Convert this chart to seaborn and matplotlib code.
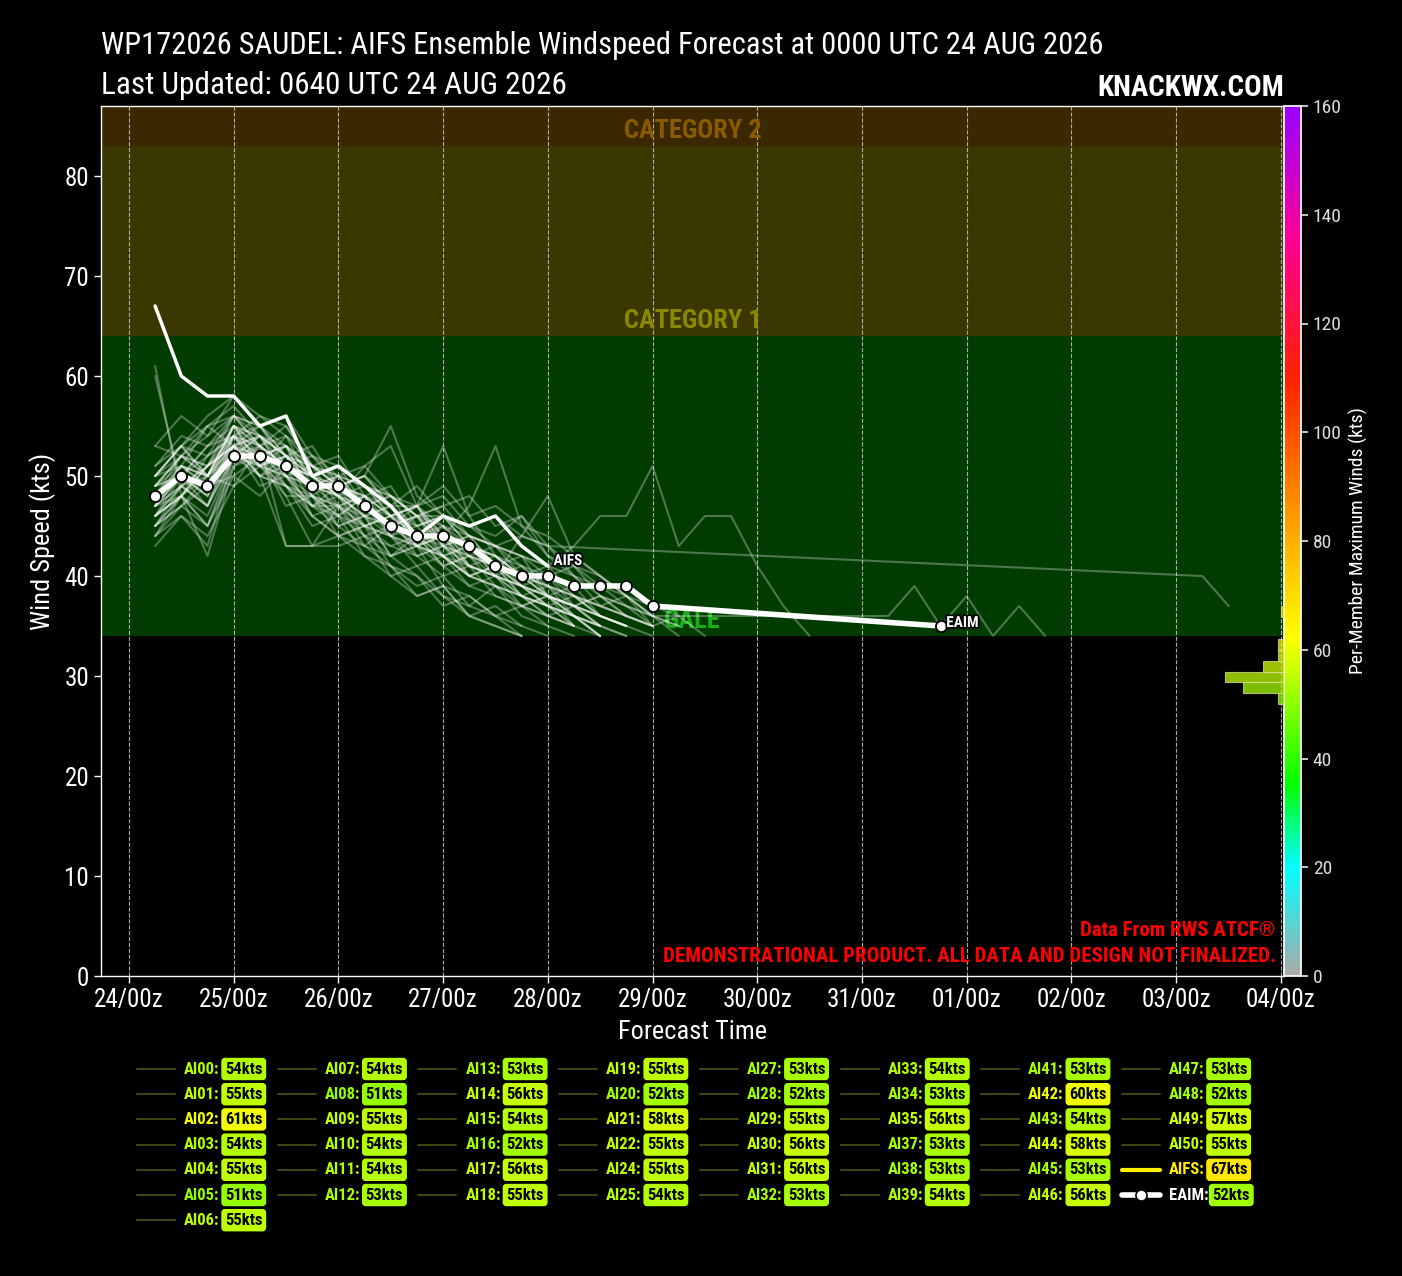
import numpy as np
import pandas as pd
import matplotlib
matplotlib.use("Agg")
import matplotlib.pyplot as plt
import matplotlib.patheffects as pe
import seaborn as sns
from matplotlib import font_manager
from matplotlib.colors import LinearSegmentedColormap, Normalize
from matplotlib.cm import ScalarMappable
from matplotlib.lines import Line2D

# ---- data -------------------------------------------------------------
BASE_TIME = "2026-08-24 00:00"
TRACK_START = 6  # hours, members are 6-hourly from here
TRACK_STEP = 6

member_ids = [
    "AI00", "AI01", "AI02", "AI03", "AI04", "AI05", "AI06", "AI07", "AI08",
    "AI09", "AI10", "AI11", "AI12", "AI13", "AI14", "AI15", "AI16", "AI17",
    "AI18", "AI19", "AI20", "AI21", "AI22", "AI24", "AI25", "AI27", "AI28",
    "AI29", "AI30", "AI31", "AI32", "AI33", "AI34", "AI35", "AI37", "AI38",
    "AI39", "AI41", "AI42", "AI43", "AI44", "AI45", "AI46", "AI47", "AI48",
    "AI49", "AI50",
]

# windspeed (kts) per member, None = no fix at that time
member_tracks = [
    [47, 51, 49, 54, 52, 53, 48, 50, 46, 45, 47, 43, 44, 41, 40, 38, 39, 36, 35],
    [50, 53, 50, 55, 51, 54, 49, 50, 47, 44, 45, 42, 43, 40, 41, 38, 37, 35],
    [61, 48, 51, 53, 50, 52, 49, 47, 48, 45, 43, 44, 41, 42, 39, 38, 36, 35, 34],
    [45, 49, 47, 52, 54, 50, 51, 47, 48, 44, 43, 45, 41, 40, 38, 39, 36, 34],
    [51, 53, 50, 53, 55, 52, 50, 51, 47, 46, 44, 45, 42, 41, 39, 37, 36, 35],
    [44, 47, 45, 50, 48, 51, 46, 44, 43, 41, 39, 40, 37, 36, 34],
    [49, 50, 53, 55, 51, 52, 49, 48, 46, 47, 43, 42, 43, 40, 39, 37, 38, 36, 35],
    [46, 50, 48, 54, 53, 50, 47, 49, 45, 44, 46, 42, 40, 41, 38, 36, 37, 35],
    [43, 46, 44, 49, 51, 48, 43, 43, 44, 40, 38, 39, 36, 35, 34],
    [53, 52, 50, 54, 55, 51, 50, 48, 47, 48, 44, 43, 44, 41, 40, 38, 37, 38, 36, 35],
    [48, 51, 49, 53, 54, 52, 51, 49, 50, 48, 47, 49, 46, 47, 45, 44, 42, 40, 38, 36, 35],
    [47, 48, 52, 54, 51, 53, 50, 46, 48, 47, 43, 44, 40, 41, 39, 37, 36, 34],
    [44, 48, 42, 51, 53, 49, 47, 45, 43, 42, 40, 38, 37, 39, 36, 35],
    [49, 50, 48, 53, 51, 52, 47, 46, 48, 44, 42, 43, 40, 39, 37, 38, 35, 34],
    [50, 52, 55, 56, 53, 54, 51, 50, 49, 46, 47, 44, 42, 43, 40, 39, 37, 36, 35],
    [47, 51, 50, 54, 52, 53, 50, 49, 47, 48, 46, 47, 48, 45, 46, 43, 41, 40, 38, 36],
    [46, 48, 45, 51, 52, 47, 48, 46, 44, 42, 43, 39, 38, 36, 37, 35, 34],
    [48, 50, 53, 54, 56, 55, 51, 52, 48, 49, 45, 46, 43, 42, 40, 41, 38, 36, 35, 34],
    [49, 52, 51, 55, 53, 51, 52, 49, 50, 47, 49, 46, 45, 46, 44, 48, 42, 40, 38, 36, 34],
    [50, 51, 55, 53, 54, 50, 49, 48, 51, 53, 47, 45, 43, 42, 40, 38, 37, 35],
    [45, 48, 46, 52, 50, 43, 43, 44, 42, 40, 41, 38, 36, 37, 35, 34],
    [53, 56, 54, 58, 55, 56, 52, 50, 51, 48, 46, 47, 44, 43, 42, 40, 41, 38, 37, 35],
    [47, 50, 49, 55, 52, 53, 48, 47, 45, 46, 42, 43, 41, 40, 37, 38, 36, 34],
    [48, 52, 50, 55, 53, 51, 50, 48, 47, 45, 46, 44, 47, 53, 45, 42, 40, 38, 36, 35],
    [46, 49, 47, 52, 54, 51, 50, 48, 49, 46, 45, 46, 44, 43, 44, 43] + [None] * 24 + [40, 37],
    [47, 50, 48, 53, 51, 52, 48, 47, 45, 46, 43, 42, 40, 41, 38, 37, 35],
    [45, 47, 49, 50, 52, 49, 46, 44, 45, 41, 40, 37, 38, 36, 35],
    [49, 51, 50, 55, 54, 52, 50, 48, 46, 47, 47, 53, 46, 42, 41, 39, 38, 36, 35],
    [50, 53, 52, 56, 54, 52, 51, 49, 50, 55, 48, 46, 44, 43, 41, 40, 38, 37, 36],
    [51, 54, 53, 56, 53, 55, 51, 49, 48, 46, 47, 48, 45, 44, 46, 42, 41, 39, 37, 36, 35],
    [46, 49, 47, 53, 52, 50, 49, 48, 46, 45, 46, 43, 41, 40, 39, 38, 36, 35, 34],
    [47, 50, 52, 54, 51, 50, 46, 47, 44, 45, 43, 41, 42, 39, 38, 36, 35],
    [46, 48, 51, 53, 50, 49, 48, 44, 45, 44, 41, 42, 40, 39, 38, 37, 36, 34],
    [49, 52, 51, 56, 55, 53, 51, 49, 50, 47, 45, 46, 43, 42, 40, 39, 38, 37, 36, 35],
    [45, 47, 50, 49, 53, 43, 43, 47, 43, 45, 44, 42, 41, 40, 38, 37, 36, 35],
    [47, 49, 51, 53, 50, 49, 47, 48, 44, 43, 42, 40, 41, 38, 37, 36, 35],
    [48, 50, 47, 54, 53, 51, 49, 50, 47, 45, 46, 43, 42, 41, 39, 40, 37, 36, 35],
    [46, 48, 45, 52, 53, 51, 49, 45, 46, 42, 43, 42, 40, 39, 38, 37, 35],
    [60, 49, 50, 52, 51, 50, 47, 47, 46, 42, 44, 42, 39, 40, 39, 38, 37, 36],
    [47, 49, 51, 54, 50, 51, 50, 48, 45, 46, 44, 41, 42, 40, 44, 43, 40, 37, 38, 35, 36, 34],
    [50, 53, 56, 58, 56, 54, 52, 51, 49, 48, 46, 45, 44, 43, 42, 41, 43, 46, 46, 51,
     43, 46, 46, 41, 37, 34],
    [45, 48, 50, 53, 52, 48, 48, 46, 45, 43, 44, 41, 39, 38, 37, 36, 35],
    [49, 52, 54, 56, 55, 52, 53, 49, 48, 46, 47, 43, 42, 41, 42, 38, 37, 38, 37, 36]
    + [None] * 8 + [36, 39, 35, 38, 34, 37, 34],
    [46, 48, 51, 53, 49, 50, 48, 45, 46, 44, 43, 44, 41, 40, 39, 38, 37, 36, 35],
    [44, 46, 43, 52, 51, 49, 45, 46, 42, 41, 38, 39, 36, 35, 34],
    [50, 53, 55, 57, 54, 53, 51, 50, 49, 48, 46, 46, 45, 43, 42, 41, 40, 39, 38, 37, 36],
    [48, 51, 50, 55, 54, 52, 50, 49, 48, 46, 47, 44, 43, 42, 40, 39, 38, 37, 36, 35],
]

aifs_hours = [6, 12, 18, 24, 30, 36, 42, 48, 54, 60, 66, 72, 78, 84, 90, 96]
aifs_track = [67, 60, 58, 58, 55, 56, 50, 51, 49, 47, 44, 46, 45, 46, 43, 41]

eaim_hours = [6, 12, 18, 24, 30, 36, 42, 48, 54, 60, 66, 72, 78, 84, 90, 96,
              102, 108, 114, 120, 186]
eaim_track = [48, 50, 49, 52, 52, 51, 49, 49, 47, 45, 44, 44, 43, 41, 40, 40,
              39, 39, 39, 37, 35]

cat_names = ["GALE", "CATEGORY 1", "CATEGORY 2"]
cat_lows = [34, 64, 83]
cat_highs = [64, 83, 100]
cat_fill = ["#003c00", "#3a3800", "#3c2800"]
cat_text = ["#16b016", "#8a8700", "#8a5a00"]

# ---- style ------------------------------------------------------------
sns.set_theme(style="dark")
names_installed = {f.name for f in font_manager.fontManager.ttflist}
NARROW = next((f for f in ["Liberation Sans Narrow", "Roboto Condensed", "DejaVu Sans"]
               if f in names_installed), "DejaVu Sans")
plt.rcParams["font.family"] = [NARROW, "DejaVu Sans"]
plt.rcParams["axes.facecolor"] = "black"
plt.rcParams["figure.facecolor"] = "black"
plt.rcParams["text.color"] = "white"

cmap = LinearSegmentedColormap.from_list("winds", [
    (0.0, "#aaaaaa"), (20 / 160, "#00ffff"), (35 / 160, "#00ff00"),
    (62 / 160, "#ffff00"), (80 / 160, "#ffb000"), (110 / 160, "#ff2000"),
    (135 / 160, "#ff0090"), (1.0, "#9900ff"),
])
norm = Normalize(0, 160)

W, H = 1402, 1276
fig = plt.figure(figsize=(W / 100, H / 100), dpi=100)
ax = fig.add_axes([101 / W, 1 - 976 / H, (1284 - 101) / W, (976 - 106) / H])

# long form table of member tracks
rows = []
for name, track in zip(member_ids, member_tracks):
    for i, v in enumerate(track):
        if v is not None:
            rows.append((name, TRACK_START + i * TRACK_STEP, v))
members = pd.DataFrame(rows, columns=["member", "hour", "wind"])
member_max = members.groupby("member", sort=False)["wind"].max()

# category bands
for lo, hi, fc, txt, tc in zip(cat_lows, cat_highs, cat_fill, cat_names, cat_text):
    ax.axhspan(lo, hi, color=fc, zorder=0, lw=0)
    ax.text(0.5, lo + 1.5, txt, transform=ax.get_yaxis_transform(), ha="center",
            va="center", fontsize=19, fontweight="bold", color=tc, zorder=1)

sns.lineplot(data=members, x="hour", y="wind", units="member", estimator=None,
             sort=False, color="white", alpha=0.3, linewidth=1.5, legend=False,
             ax=ax, zorder=3)
sns.lineplot(x=aifs_hours, y=aifs_track, estimator=None, color="white",
             linewidth=2.5, ax=ax, zorder=4)
sns.lineplot(x=eaim_hours, y=eaim_track, estimator=None, color="white",
             linewidth=4, marker="o", markersize=8, markerfacecolor="white",
             markeredgecolor="black", markeredgewidth=1.3, ax=ax, zorder=5)

outline = [pe.withStroke(linewidth=2.5, foreground="black")]
ax.text(aifs_hours[-1] + 1.3, aifs_track[-1] + 0.5, "AIFS", fontsize=11,
        fontweight="bold", color="white", va="center", zorder=6, path_effects=outline)
ax.text(eaim_hours[-1] + 1.3, eaim_track[-1] + 0.3, "EAIM", fontsize=11,
        fontweight="bold", color="white", va="center", zorder=6, path_effects=outline)

# axes
days = pd.date_range(BASE_TIME, periods=12, freq="D")
tick_hours = [(d - days[0]).total_seconds() / 3600 for d in days]
ax.set_xticks(tick_hours)
ax.set_xticklabels([d.strftime("%d/%Hz") for d in days])
ax.set_xlim(-6.4, 264.7)
ax.set_ylim(0, 87)
ax.set_yticks(range(0, 90, 10))
ax.tick_params(axis="both", colors="white", labelsize=18, length=5, width=1,
               direction="out", bottom=True, left=True)
ax.grid(axis="x", color="#bbbbbb", linestyle="--", linewidth=0.8, alpha=0.9)
ax.grid(axis="y", visible=False)
for side in ["left", "right", "top", "bottom"]:
    ax.spines[side].set_color("white")
    ax.spines[side].set_linewidth(1)
ax.set_xlabel("Forecast Time", fontsize=19, color="white", labelpad=6)
ax.set_ylabel("Wind Speed (kts)", fontsize=19, color="white", labelpad=6)

# colourbar
cax = fig.add_axes([1284 / W, 1 - 976 / H, 17 / W, (976 - 106) / H])
cb = fig.colorbar(ScalarMappable(norm=norm, cmap=cmap), cax=cax,
                  ticks=range(0, 161, 20))
cb.outline.set_edgecolor("white")
cb.ax.tick_params(colors="#dddddd", labelsize=14, length=5)
cb.set_label("Per-Member Maximum Winds (kts)", color="white", fontsize=14, labelpad=5)

# histogram of per-member maxima along the colourbar scale
hax = fig.add_axes(ax.get_position())
hist_vals = list(member_max.values) + [max(aifs_track)]
sns.histplot(y=hist_vals, bins=np.arange(0, 162, 2), ax=hax, stat="count",
             element="bars", linewidth=0.8)
for patch in hax.patches:
    center = patch.get_y() + patch.get_height() / 2
    patch.set_facecolor(cmap(norm(center)))
    patch.set_alpha(0.75)
    patch.set_edgecolor("#dddd99")
hax.set_ylim(0, 160)
hax.set_xlim(400, 0)
hax.patch.set_alpha(0)
hax.set_axis_off()

# titles
fig.text(101 / W, 1 - 46 / H,
         "WP172026 SAUDEL: AIFS Ensemble Windspeed Forecast at 0000 UTC 24 AUG 2026",
         fontsize=22, color="white", va="center", ha="left")
fig.text(101 / W, 1 - 85 / H, "Last Updated: 0640 UTC 24 AUG 2026",
         fontsize=22.5, color="white", va="center", ha="left")
fig.text(1284 / W, 1 - 88 / H, "KNACKWX.COM", fontsize=21, fontweight="bold",
         color="white", va="center", ha="right")
ax.text(0.993, 0.052, "Data From RWS ATCF®", transform=ax.transAxes, ha="right",
        va="center", fontsize=15, fontweight="bold", color="#ff0000", zorder=7)
ax.text(0.993, 0.022, "DEMONSTRATIONAL PRODUCT. ALL DATA AND DESIGN NOT FINALIZED.",
        transform=ax.transAxes, ha="right", va="center", fontsize=15,
        fontweight="bold", color="#ff0000", zorder=7)

# legend, column-major like matplotlib ncol=8
entries = [(n, member_max[n], "member") for n in member_ids]
entries.append(("AIFS", max(aifs_track), "aifs"))
entries.append(("EAIM", max(eaim_track), "eaim"))
ncol = 8
nrows, nlarge = divmod(len(entries), ncol)
renderer = fig.canvas.get_renderer()
k = 0
for c in range(ncol):
    height = nrows + 1 if c < nlarge else nrows
    for r in range(height):
        name, mx, kind = entries[k]
        k += 1
        x0 = 137 + 140.7 * c
        y0 = 1 - (1069 + 25.2 * r) / H
        col = cmap(norm(mx))
        if kind == "member":
            fig.add_artist(Line2D([x0 / W, (x0 + 38) / W], [y0, y0], color="#3a4510", lw=1.5))
            tcol = col
        elif kind == "aifs":
            fig.add_artist(Line2D([x0 / W, (x0 + 38) / W], [y0, y0], color="#ffee00", lw=3))
            tcol = "#ffee00"
        else:
            fig.add_artist(Line2D([x0 / W, (x0 + 38) / W], [y0, y0], color="white", lw=4))
            fig.add_artist(Line2D([(x0 + 19) / W], [y0], marker="o", markersize=8,
                                  markerfacecolor="white", markeredgecolor="black",
                                  markeredgewidth=1.2))
            tcol = "white"
        lab = fig.text((x0 + 47) / W, y0, f"{name}:", fontsize=12, fontweight="bold",
                       color=tcol, ha="left", va="center")
        x_end = lab.get_window_extent(renderer).x1
        fig.text(max(x0 + 88, x_end + 4) / W, y0, f"{mx:.0f}kts", fontsize=12,
                 fontweight="bold", color="black", ha="left", va="center",
                 bbox=dict(boxstyle="round,pad=0.18", facecolor=col, edgecolor=col))

fig.savefig("out.png", dpi=100, facecolor="black")
